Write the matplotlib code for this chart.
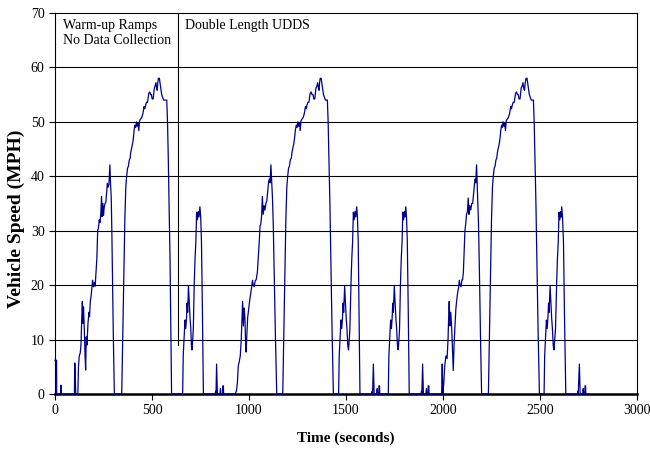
import matplotlib
matplotlib.use("Agg")
import matplotlib.pyplot as plt

# ---- data: (time [s], speed [mph]) ----
warmup = [(0, 6.2), (8, 6.2), (9, 0), (29, 0), (30, 1.6), (32, 1.6), (33, 0), (100, 0),
          (102, 5.7), (105, 3), (107, 0), (118, 0), (121, 5), (125, 7), (130, 7.5), (134, 9),
          (138, 14), (141, 17), (144, 13), (147, 16), (151, 12), (155, 7), (158, 4.4),
          (161, 10.5), (165, 9), (170, 13), (175, 15), (178, 14.2), (182, 17), (186, 18),
          (190, 19.5), (194, 20.9), (198, 19.7), (203, 20.5), (207, 19.8), (212, 22.8),
          (216, 25), (220, 30), (224, 30.5), (228, 32), (232, 31.5), (236, 33), (240, 36.3),
          (243, 32.6), (247, 35), (250, 32.8), (254, 34.4), (258, 35), (262, 35.2), (266, 37),
          (270, 38.7), (274, 38), (278, 38.5), (283, 42.1), (286, 38.9), (290, 36), (293, 30),
          (297, 20), (301, 10), (306, 0), (344, 0), (348, 8), (352, 16), (356, 24.6), (360, 32),
          (365, 38), (369, 39.9), (374, 41.5), (378, 41.8), (383, 43), (387, 43.3), (391, 44.5),
          (395, 45.2), (400, 46), (404, 47), (408, 48.5), (412, 49.4), (416, 49), (420, 50),
          (424, 49.2), (428, 49.8), (432, 48.4), (436, 50.2), (441, 50.5), (447, 50.8),
          (453, 51.5), (459, 52.8), (463, 52.4), (468, 53.2), (472, 53.6), (477, 53.6),
          (483, 55.2), (488, 55.5), (493, 55), (497, 55), (501, 54.2), (506, 54.2), (512, 56.2),
          (516, 56.6), (520, 57.2), (524, 56.2), (527, 55.8), (530, 57.2), (533, 58), (538, 58),
          (542, 57), (546, 56), (550, 55), (555, 54.5), (560, 54), (576, 54), (580, 50),
          (584, 43.3), (588, 35), (593, 24.6), (597, 12), (601, 0), (658, 0)]

hill_a = [(661, 7), (665, 10), (670, 13.6), (674, 12), (678, 14), (681, 16.7), (684, 15),
          (688, 19.8), (692, 17), (696, 14), (700, 12), (703, 9), (706, 8.1), (710, 10),
          (713, 12), (718, 20.6), (722, 25), (726, 27.9), (730, 33.4), (734, 32), (738, 33.5),
          (742, 32.5), (747, 34.4), (751, 32.5), (755, 28), (760, 15), (765, 0)]

blips_a = [(825, 0), (828, 0.5), (830, 0), (833, 5.5), (835, 3), (837, 0), (850, 0), (853, 1),
           (855, 0), (864, 0), (865, 1.5), (868, 1.5), (869, 0)]

ramp_b = [(928, 0), (935, 0.5), (940, 2), (945, 5.2), (950, 6), (955, 7), (960, 10), (964, 14),
          (967, 17), (971, 12.5), (975, 15.8), (979, 14), (982, 10), (985, 7.7), (989, 11),
          (993, 14), (998, 15.5), (1003, 17), (1008, 18.2), (1013, 19.5), (1018, 20.9),
          (1022, 20), (1027, 19.7), (1032, 20.8), (1037, 21), (1043, 22.3), (1048, 25),
          (1053, 28), (1057, 30.9), (1061, 31.2), (1065, 32.8), (1069, 36.3), (1073, 33),
          (1078, 34.6), (1082, 33.8), (1087, 35), (1092, 35.5), (1097, 37.5), (1101, 39),
          (1105, 39.5), (1109, 38.8), (1113, 42.1), (1117, 39), (1121, 36), (1125, 31.3),
          (1130, 22), (1136, 11), (1143, 0)]

hill_c = [(1174, 0), (1178, 8), (1182, 16), (1186, 24.6), (1190, 32), (1195, 38), (1199, 39.9),
          (1204, 41.5), (1208, 41.8), (1213, 43), (1218, 43.3), (1222, 44.5), (1226, 45.2),
          (1231, 46), (1235, 47), (1239, 48.5), (1244, 49.4), (1248, 49), (1252, 50),
          (1256, 49.2), (1260, 49.8), (1264, 48.4), (1268, 50.2), (1273, 50.5), (1279, 50.8),
          (1285, 51.5), (1291, 52.8), (1295, 52.4), (1300, 53.2), (1304, 53.6), (1309, 53.6),
          (1315, 55.2), (1320, 55.5), (1325, 55), (1330, 55), (1334, 54.2), (1339, 54.2),
          (1345, 56.2), (1350, 56.6), (1354, 57.2), (1358, 56.2), (1361, 55.8), (1364, 57.2),
          (1367, 58), (1372, 58), (1376, 57), (1380, 56), (1384, 55), (1389, 54.5), (1394, 54),
          (1404, 54), (1408, 50), (1412, 43.3), (1417, 35), (1422, 24.6), (1428, 12), (1435, 0)]

hill_d1 = [(1462, 0), (1465, 7), (1469, 10), (1474, 13.6), (1478, 12), (1482, 14), (1485, 16.7),
           (1488, 15), (1493, 19.8), (1497, 17), (1501, 14), (1505, 12), (1509, 9), (1513, 8.1),
           (1517, 10), (1520, 12), (1526, 20.6), (1530, 25), (1534, 27.9), (1538, 33.4),
           (1542, 32), (1546, 33.5), (1550, 32.5), (1555, 34.4), (1559, 32.5), (1563, 28),
           (1567, 15), (1572, 0)]

blips_d1 = [(1632, 0), (1635, 0.5), (1637, 0), (1641, 5.5), (1643, 3), (1645, 0), (1658, 0),
            (1661, 1), (1663, 0), (1669, 0), (1670, 1.5), (1673, 1.5), (1674, 0)]

hill_d2 = [(1718, 0), (1721, 7), (1725, 10), (1730, 13.6), (1734, 12), (1738, 14), (1741, 16.7),
           (1744, 15), (1749, 19.8), (1753, 17), (1757, 14), (1761, 12), (1765, 9), (1769, 8.1),
           (1773, 10), (1776, 12), (1781, 20.6), (1785, 25), (1789, 27.9), (1793, 33.4),
           (1797, 32), (1801, 33.5), (1804, 32.5), (1808, 34.4), (1812, 32.5), (1816, 28),
           (1821, 15), (1826, 0)]

blips_d2 = [(1886, 0), (1889, 0.5), (1891, 0), (1895, 5.5), (1897, 3), (1899, 0), (1912, 0),
            (1915, 1), (1917, 0), (1923, 0), (1924, 1.5), (1927, 1.5), (1928, 0)]

ramp_g = [(1993, 0), (1996, 5.5), (1999, 0), (2004, 2), (2009, 5.2), (2015, 7), (2021, 6.5),
          (2026, 10), (2029, 14), (2032, 17), (2036, 12.5), (2040, 15), (2045, 12), (2049, 8),
          (2053, 4.3), (2057, 9), (2061, 12), (2066, 15.5), (2070, 17), (2075, 18.5),
          (2080, 19.5), (2084, 20.9), (2088, 20), (2093, 19.7), (2098, 21), (2101, 21),
          (2105, 22.3), (2109, 26), (2113, 30), (2117, 31.2), (2121, 33), (2126, 33.5),
          (2130, 36), (2134, 33), (2138, 34.6), (2143, 33.8), (2148, 35), (2153, 35),
          (2158, 37), (2162, 38.5), (2166, 39.5), (2169, 38.8), (2173, 42.1), (2176, 39),
          (2179, 36), (2183, 31.3), (2188, 22), (2193, 11), (2199, 0)]

hill_e = [(2234, 0), (2238, 8), (2242, 16), (2246, 24.6), (2250, 32), (2255, 38), (2259, 39.9),
          (2264, 41.5), (2268, 41.8), (2273, 43), (2277, 43.3), (2281, 44.5), (2285, 45.2),
          (2290, 46), (2294, 47), (2298, 48.5), (2302, 49.4), (2306, 49), (2310, 50),
          (2314, 49.2), (2318, 49.8), (2322, 48.4), (2326, 50.2), (2331, 50.5), (2337, 50.8),
          (2343, 51.5), (2349, 52.8), (2353, 52.4), (2358, 53.2), (2362, 53.6), (2367, 53.6),
          (2374, 55.2), (2379, 55.5), (2384, 55), (2388, 55), (2392, 54.2), (2397, 54.2),
          (2403, 56.2), (2408, 56.6), (2412, 57.2), (2416, 56.2), (2420, 55.8), (2424, 57.2),
          (2428, 58), (2433, 58), (2437, 57), (2441, 56), (2445, 55), (2450, 54.5), (2455, 54),
          (2466, 54), (2470, 50), (2474, 43.3), (2479, 35), (2484, 24.6), (2490, 12), (2497, 0)]

hill_f = [(2521, 0), (2524, 7), (2528, 10), (2533, 13.6), (2537, 12), (2541, 14), (2544, 16.7),
          (2547, 15), (2552, 19.8), (2556, 17), (2560, 14), (2564, 12), (2568, 9), (2572, 8.1),
          (2576, 10), (2580, 12), (2586, 20.6), (2590, 25), (2594, 27.9), (2598, 33.4),
          (2602, 32), (2606, 33.5), (2609, 32.5), (2612, 34.4), (2616, 32.5), (2621, 28),
          (2626, 15), (2633, 0)]

blips_f = [(2692, 0), (2695, 0.5), (2697, 0), (2703, 5.5), (2705, 3), (2707, 0), (2720, 0),
           (2723, 1), (2725, 0), (2731, 0), (2732, 1.5), (2735, 1.5), (2736, 0), (2747, 0)]

segments = [warmup, hill_a, blips_a, ramp_b, hill_c, hill_d1, blips_d1, hill_d2, blips_d2,
            ramp_g, hill_e, hill_f, blips_f]

x_ticks = [0, 500, 1000, 1500, 2000, 2500, 3000]
y_ticks = [0, 10, 20, 30, 40, 50, 60, 70]
divider_time = 636
divider_bottom = 9

# ---- build the trace ----
times, speeds = [], []
for seg in segments:
    for t, v in seg:
        times.append(t)
        speeds.append(v)

serif = ["Liberation Serif", "DejaVu Serif"]
plt.rcParams["font.family"] = serif

fig = plt.figure(figsize=(6.5, 4.51), dpi=100)
ax = fig.add_axes([0.0846, 0.1264, 0.8954, 0.8448])

for yv in y_ticks[1:-1]:
    ax.axhline(yv, color="black", lw=0.8, zorder=1)

ax.plot(times, speeds, color="#00008B", lw=0.9, zorder=3, clip_on=False)
ax.plot([divider_time, divider_time], [divider_bottom, 70], color="black", lw=0.8, zorder=2)

ax.set_xlim(0, 3000)
ax.set_ylim(0, 70)
ax.set_xticks(x_ticks)
ax.set_yticks(y_ticks)
ax.tick_params(direction="out", length=4, width=0.8, labelsize=10, colors="black")
for name in ["top", "right", "left"]:
    ax.spines[name].set_linewidth(0.8)
ax.spines["bottom"].set_linewidth(1.8)
ax.spines["bottom"].set_zorder(2.5)

ax.set_xlabel("Time (seconds)", fontsize=11, fontweight="bold", labelpad=10)
fig.text(16 / 650, 1 - 219 / 451, "Vehicle Speed (MPH)", fontsize=14, fontweight="bold",
         rotation=90, ha="center", va="center")

ax.text(42, 68.9, "Warm-up Ramps\nNo Data Collection", fontsize=10, va="top", ha="left",
        linespacing=1.25)
ax.text(670, 68.9, "Double Length UDDS", fontsize=10, va="top", ha="left")

fig.savefig("out.png", dpi=100)
